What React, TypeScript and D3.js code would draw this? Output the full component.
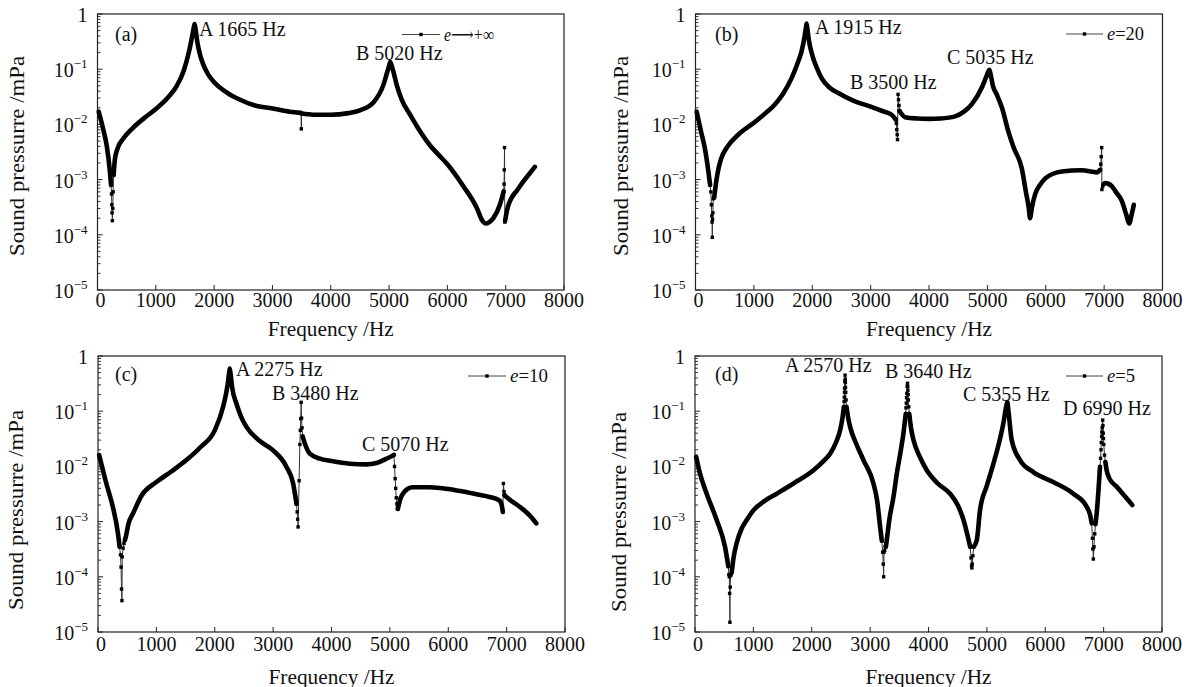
import React from "react";
import * as d3 from "d3";

type Pt = [number, number];

const xTickValues = [0, 1000, 2000, 3000, 4000, 5000, 6000, 7000, 8000];
const yDecades = [0, -1, -2, -3, -4, -5];

// ---------- (a) e -> +inf ----------
const curveA: Pt[][] = [
  [[20, 1.7e-2], [100, 8e-3], [160, 4e-3], [210, 1.5e-3], [232, 8e-4]],
  [[275, 1.2e-3], [300, 2.4e-3], [350, 3.8e-3], [446, 5.6e-3], [600, 8.5e-3], [800, 1.3e-2], [1000, 1.9e-2], [1200, 3.0e-2], [1360, 5.0e-2], [1480, 9.5e-2], [1560, 1.9e-1], [1620, 3.8e-1], [1650, 5.6e-1], [1665, 6.6e-1], [1680, 5.5e-1], [1710, 3.2e-1], [1760, 1.8e-1], [1817, 1.2e-1], [1900, 8e-2], [2000, 5.8e-2], [2200, 3.9e-2], [2446, 2.8e-2], [2700, 2.2e-2], [3000, 1.95e-2], [3300, 1.7e-2], [3490, 1.62e-2]],
  [[3500, 1.57e-2], [3700, 1.5e-2], [4000, 1.5e-2], [4300, 1.6e-2], [4500, 1.8e-2], [4731, 2.5e-2], [4903, 5.2e-2], [4970, 9e-2], [5005, 1.2e-1], [5020, 1.35e-1], [5040, 1.2e-1], [5074, 9e-2], [5131, 5.2e-2], [5217, 2.8e-2], [5360, 1.5e-2], [5531, 7.5e-3], [5700, 4.2e-3], [5850, 2.8e-3], [6000, 1.9e-3], [6274, 7.6e-4], [6503, 3.1e-4], [6600, 1.8e-4], [6657, 1.6e-4], [6720, 1.7e-4], [6789, 2.0e-4], [6900, 3.5e-4], [6965, 6.1e-4]],
  [[6990, 1.8e-4], [7030, 3e-4], [7074, 4.1e-4], [7200, 6.5e-4], [7303, 9.3e-4], [7400, 1.25e-3], [7500, 1.7e-3]],
];
const marksA: Pt[][] = [
  [[232, 8e-4], [240, 5.5e-4], [245, 3.5e-4], [250, 2.5e-4], [255, 1.8e-4], [262, 3e-4], [268, 6e-4], [275, 1.2e-3]],
  [[3490, 1.62e-2], [3495, 8.3e-3], [3500, 1.57e-2]],
  [[6965, 6.1e-4], [6972, 8.3e-4], [6976, 1.5e-3], [6980, 3.8e-3], [6985, 1.7e-4], [6990, 1.8e-4]],
];

// ---------- (b) e = 20 ----------
const curveB: Pt[][] = [
  [[20, 1.7e-2], [100, 7e-3], [160, 3.7e-3], [217, 1.5e-3], [250, 8e-4]],
  [[320, 4.7e-4], [360, 1e-3], [400, 1.7e-3], [446, 2.5e-3], [550, 4e-3], [731, 6.5e-3], [1000, 1.07e-2], [1200, 1.6e-2], [1360, 2.3e-2], [1500, 3.6e-2], [1646, 6.9e-2], [1750, 1.3e-1], [1817, 2.1e-1], [1870, 4e-1], [1890, 5.5e-1], [1903, 6.7e-1], [1918, 5.2e-1], [1950, 3e-1], [2000, 1.8e-1], [2080, 1.05e-1], [2160, 6.9e-2], [2300, 4.6e-2], [2446, 3.7e-2], [2700, 2.7e-2], [3000, 2.1e-2], [3200, 1.75e-2], [3360, 1.5e-2], [3429, 1.23e-2]],
  [[3495, 1.75e-2], [3530, 1.55e-2], [3589, 1.35e-2], [3800, 1.28e-2], [4000, 1.26e-2], [4200, 1.28e-2], [4446, 1.4e-2], [4600, 1.7e-2], [4731, 2.3e-2], [4903, 4.6e-2], [4985, 7.5e-2], [5020, 9.2e-2], [5034, 9.8e-2], [5050, 8.5e-2], [5100, 4.8e-2], [5160, 3.5e-2], [5250, 2e-2], [5360, 7.4e-3], [5450, 3.8e-3], [5589, 1.6e-3], [5660, 6e-4], [5710, 3e-4], [5731, 2.0e-4], [5760, 3e-4], [5817, 5.4e-4], [5900, 8e-4], [6000, 1.07e-3], [6274, 1.4e-3], [6617, 1.48e-3], [6874, 1.35e-3], [6931, 1.5e-3]],
  [[6990, 8.2e-4], [7017, 8.7e-4], [7060, 8.5e-4], [7131, 7.6e-4], [7200, 6e-4], [7303, 4.1e-4], [7380, 2.3e-4], [7429, 1.6e-4], [7470, 2.3e-4], [7509, 3.5e-4]],
];
const marksB: Pt[][] = [
  [[250, 8e-4], [263, 6e-4], [272, 3.5e-4], [280, 2.2e-4], [284, 1.7e-4], [288, 9e-5], [292, 1.9e-4], [298, 2.5e-4], [305, 4.5e-4], [320, 4.7e-4]],
  [[3429, 1.23e-2], [3440, 1.05e-2], [3448, 8e-3], [3455, 6.5e-3], [3460, 5.3e-3], [3470, 3.5e-2], [3478, 2.8e-2], [3486, 2.2e-2], [3495, 1.75e-2]],
  [[6931, 1.5e-3], [6942, 1.9e-3], [6950, 2.6e-3], [6958, 3.8e-3], [6962, 6.6e-4], [6975, 7.6e-4], [6990, 8.2e-4]],
];

// ---------- (c) e = 10 ----------
const curveC: Pt[][] = [
  [[20, 1.6e-2], [143, 4.9e-3], [257, 1.8e-3], [343, 6e-4], [370, 3.5e-4]],
  [[460, 4.6e-4], [480, 5.5e-4], [520, 9e-4], [600, 1.4e-3], [750, 3e-3], [1000, 5.2e-3], [1250, 8e-3], [1514, 1.3e-2], [1750, 2.2e-2], [2000, 4.5e-2], [2143, 1.2e-1], [2220, 3e-1], [2245, 4.8e-1], [2257, 5.9e-1], [2270, 4.8e-1], [2300, 2.6e-1], [2371, 1.38e-1], [2450, 8e-2], [2543, 5.2e-2], [2750, 3e-2], [3000, 1.95e-2], [3229, 9.8e-3], [3343, 4.9e-3], [3400, 2.1e-3]],
  [[3505, 3.5e-2], [3543, 2.6e-2], [3629, 1.7e-2], [3800, 1.38e-2], [4000, 1.25e-2], [4314, 1.12e-2], [4600, 1.09e-2], [4771, 1.15e-2], [4943, 1.38e-2], [5040, 1.55e-2], [5069, 1.62e-2]],
  [[5137, 1.7e-3], [5180, 2.6e-3], [5223, 3.2e-3], [5300, 3.9e-3], [5394, 4.2e-3], [5680, 4.2e-3], [6000, 3.9e-3], [6251, 3.5e-3], [6500, 3.1e-3], [6707, 2.8e-3], [6880, 2.4e-3], [6920, 1.9e-3], [6935, 1.5e-3]],
  [[6965, 3e-3], [6995, 2.8e-3], [7100, 2.3e-3], [7223, 1.86e-3], [7394, 1.3e-3], [7508, 9.3e-4]],
];
const marksC: Pt[][] = [
  [[370, 3.5e-4], [385, 2.5e-4], [395, 1.5e-4], [403, 6e-5], [410, 3.7e-5], [415, 2.3e-4], [430, 3.3e-4], [445, 4e-4], [460, 4.6e-4]],
  [[3400, 2.1e-3], [3412, 1.5e-3], [3420, 1.1e-3], [3428, 8e-4], [3445, 5.5e-3], [3458, 2.5e-2], [3466, 4.5e-2], [3473, 7.3e-2], [3480, 1.45e-1], [3487, 7.5e-2], [3495, 5e-2], [3505, 3.5e-2]],
  [[5069, 1.62e-2], [5080, 1e-2], [5090, 6e-3], [5100, 4e-3], [5110, 2.7e-3], [5120, 2.1e-3], [5130, 1.8e-3], [5137, 1.7e-3]],
  [[6935, 1.5e-3], [6945, 4.9e-3], [6955, 3.5e-3], [6965, 3e-3]],
];

// ---------- (d) e = 5 ----------
const curveD: Pt[][] = [
  [[20, 1.5e-2], [86, 7.4e-3], [200, 3.2e-3], [371, 1.07e-3], [514, 3.5e-4], [571, 1.55e-4]],
  [[629, 1.2e-4], [660, 2.2e-4], [714, 4.1e-4], [800, 7.5e-4], [886, 1.07e-3], [1000, 1.6e-3], [1200, 2.4e-3], [1400, 3.2e-3], [1700, 5e-3], [2029, 8.5e-3], [2200, 1.25e-2], [2314, 1.7e-2], [2420, 2.8e-2], [2486, 4.5e-2], [2530, 8e-2], [2550, 1.2e-1]],
  [[2595, 1.2e-1], [2620, 8e-2], [2657, 5.2e-2], [2760, 2.6e-2], [2886, 1.3e-2], [3057, 4.9e-3], [3120, 2.4e-3], [3171, 8.1e-4], [3200, 4.5e-4]],
  [[3270, 3.5e-4], [3286, 4.7e-4], [3330, 1.1e-3], [3400, 2.8e-3], [3457, 7.4e-3], [3520, 1.8e-2], [3571, 4e-2], [3610, 9e-2]],
  [[3670, 9e-2], [3700, 5e-2], [3743, 3e-2], [3850, 1.5e-2], [3971, 8.5e-3], [4150, 5e-3], [4371, 3.2e-3], [4500, 2e-3], [4600, 1.07e-3], [4680, 5e-4], [4714, 3.5e-4]],
  [[4775, 3.5e-4], [4829, 4.7e-4], [4882, 1.6e-3], [5000, 4.5e-3], [5110, 1.1e-2], [5220, 3e-2], [5282, 6e-2], [5330, 1.2e-1], [5350, 1.47e-1], [5370, 1e-1], [5425, 3e-2], [5568, 1.3e-2], [5796, 7.9e-3], [6138, 5.2e-3], [6481, 3.2e-3], [6710, 1.86e-3], [6770, 1.3e-3], [6796, 9.3e-4]],
  [[6860, 9e-4], [6881, 1.4e-3], [6910, 3.5e-3], [6938, 9.8e-3]],
  [[7030, 1.2e-2], [7052, 8.5e-3], [7100, 6e-3], [7223, 4.3e-3], [7350, 3e-3], [7491, 2e-3]],
];
const marksD: Pt[][] = [
  [[571, 1.55e-4], [580, 1.1e-4], [588, 1e-4], [593, 5e-5], [598, 1.5e-5], [603, 6.5e-5], [610, 1.05e-4], [618, 1.1e-4], [629, 1.2e-4]],
  [[2550, 1.2e-1], [2555, 1.5e-1], [2558, 1.8e-1], [2561, 2.2e-1], [2563, 2.6e-1], [2567, 3.5e-1], [2571, 4.5e-1], [2574, 3.8e-1], [2576, 3.3e-1], [2579, 2.7e-1], [2582, 2.2e-1], [2588, 1.6e-1], [2595, 1.2e-1]],
  [[3200, 4.5e-4], [3215, 2.8e-4], [3225, 1.7e-4], [3232, 1e-4], [3238, 2.8e-4], [3250, 3e-4], [3260, 3.5e-4], [3270, 3.5e-4]],
  [[3610, 9e-2], [3615, 1.15e-1], [3620, 1.4e-1], [3624, 1.75e-1], [3628, 2.1e-1], [3635, 2.8e-1], [3640, 3.2e-1], [3644, 2.8e-1], [3647, 2.4e-1], [3651, 2e-1], [3655, 1.6e-1], [3662, 1.2e-1], [3670, 9e-2]],
  [[4714, 3.5e-4], [4728, 2.2e-4], [4738, 1.6e-4], [4743, 1.45e-4], [4750, 1.7e-4], [4760, 2.4e-4], [4775, 3.5e-4]],
  [[6796, 9.3e-4], [6808, 5e-4], [6816, 3.2e-4], [6824, 2.1e-4], [6835, 3.5e-4], [6848, 6e-4], [6860, 9e-4]],
  [[6938, 9.8e-3], [6948, 1.4e-2], [6955, 2e-2], [6960, 2.7e-2], [6965, 3.5e-2], [6970, 4.2e-2], [6975, 5e-2], [6984, 6.9e-2], [6988, 5.5e-2], [6993, 4e-2], [6998, 3.2e-2], [7003, 2.5e-2], [7015, 1.6e-2], [7030, 1.2e-2]],
];

const tags = ["(a)", "(b)", "(c)", "(d)"];
const legendTails = ["\u27F6+\u221E", "=20", "=10", "=5"];
const notesA = ["A 1665 Hz", "B 5020 Hz"];
const notesB = ["A 1915 Hz", "B 3500 Hz", "C 5035 Hz"];
const notesC = ["A 2275 Hz", "B 3480 Hz", "C 5070 Hz"];
const notesD = ["A 2570 Hz", "B 3640 Hz", "C 5355 Hz", "D 6990 Hz"];
const xTitle = "Frequency /Hz";
const yTitle = "Sound pressurre /mPa";

const FONT = "Liberation Serif, DejaVu Serif, Noto Serif, serif";

interface Layout {
  l: number; r: number; t: number; b: number;
  tag: [number, number];
  notePos: [number, number][];
  legend: [number, number];
  legendLen: number;
  legendTextLen: number;
  ylabX: number; ylabCy: number;
  xtickBase: number; xtitleBase: number;
}

const layouts: Layout[] = [
  { l: 97.5, r: 564, t: 14, b: 290, tag: [115, 41], notePos: [[199, 36], [356, 60]], legend: [402, 34.5], legendLen: 38, legendTextLen: 50, ylabX: 24, ylabCy: 156, xtickBase: 307, xtitleBase: 336 },
  { l: 695.5, r: 1162.5, t: 14, b: 290, tag: [715, 41], notePos: [[815, 34], [850, 89], [947, 64]], legend: [1066, 34], legendLen: 37, legendTextLen: 37, ylabX: 628, ylabCy: 156, xtickBase: 307, xtitleBase: 336 },
  { l: 98, r: 565, t: 356, b: 632, tag: [115, 381], notePos: [[236, 376], [272, 400], [362, 451]], legend: [468, 376], legendLen: 38, legendTextLen: 38, ylabX: 23, ylabCy: 510, xtickBase: 651, xtitleBase: 684 },
  { l: 695, r: 1162, t: 356, b: 632, tag: [715, 381], notePos: [[785, 372], [885, 378], [963, 401], [1063, 415]], legend: [1066, 376], legendLen: 37, legendTextLen: 28, ylabX: 626, ylabCy: 512, xtickBase: 651, xtitleBase: 684 },
];

const curves = [curveA, curveB, curveC, curveD];
const marks = [marksA, marksB, marksC, marksD];
const notes = [notesA, notesB, notesC, notesD];

const txt = (size: number): React.CSSProperties => ({ fontFamily: FONT, fontSize: size });

function Panel({ idx }: { idx: number }) {
  const L = layouts[idx];
  const x = d3.scaleLinear().domain([0, 8000]).range([L.l, L.r]);
  const y = d3.scaleLog().domain([1e-5, 1]).range([L.b, L.t]);
  const thick = d3.line<Pt>().x((d) => x(d[0])).y((d) => y(d[1])).curve(d3.curveMonotoneX);
  const thin = d3.line<Pt>().x((d) => x(d[0])).y((d) => y(d[1]));
  const minor: number[] = [];
  for (let e = -5; e < 0; e++) for (let m = 2; m <= 9; m++) minor.push(m * Math.pow(10, e));
  const ms = 3.4;
  const [lgx, lgy] = L.legend;
  return (
    <g>
      <rect x={L.l} y={L.t} width={L.r - L.l} height={L.b - L.t} fill="none" stroke="#222" strokeWidth={1.2} />
      {xTickValues.map((v) => (
        <g key={"xt" + v}>
          <line x1={x(v)} x2={x(v)} y1={L.b} y2={L.b - 5} stroke="#222" strokeWidth={1} />
          <text x={x(v) + (v === 0 ? 3 : 0)} y={L.xtickBase} textAnchor="middle" style={txt(20)} fill="#111">{v}</text>
        </g>
      ))}
      {yDecades.map((e) => (
        <g key={"yt" + e}>
          <line x1={L.l} x2={L.l + 5} y1={y(Math.pow(10, e))} y2={y(Math.pow(10, e))} stroke="#222" strokeWidth={1} />
          <text x={L.l - 10} y={y(Math.pow(10, e)) + 8} textAnchor="end" style={txt(20)} fill="#111">
            {e === 0 ? "1" : (
              <>
                <tspan>10</tspan>
                <tspan dy={-9} style={txt(13)}>{"\u2212" + -e}</tspan>
              </>
            )}
          </text>
        </g>
      ))}
      {minor.map((v, i) => (
        <line key={"mn" + i} x1={L.l} x2={L.l + 3} y1={y(v)} y2={y(v)} stroke="#222" strokeWidth={0.9} />
      ))}
      <text x={(L.l + L.r) / 2} y={L.xtitleBase} textAnchor="middle" style={txt(20)} fill="#111" textLength={126} lengthAdjust="spacingAndGlyphs">{xTitle}</text>
      <text transform={`translate(${L.ylabX},${L.ylabCy}) rotate(-90)`} textAnchor="middle" style={txt(20)} fill="#111" textLength={200} lengthAdjust="spacingAndGlyphs">{yTitle}</text>
      {marks[idx].map((seg, i) => (
        <g key={"mk" + i}>
          <path d={thin(seg) || ""} fill="none" stroke="#333" strokeWidth={1} />
          {seg.map((p, j) => (
            <rect key={j} x={x(p[0]) - ms / 2} y={y(p[1]) - ms / 2} width={ms} height={ms} fill="#000" />
          ))}
        </g>
      ))}
      {curves[idx].map((seg, i) => (
        <path key={"cv" + i} d={thick(seg) || ""} fill="none" stroke="#000" strokeWidth={4.6} strokeLinejoin="round" strokeLinecap="round" />
      ))}
      <text x={L.tag[0]} y={L.tag[1]} style={txt(20)} fill="#111">{tags[idx]}</text>
      {notes[idx].map((n, i) => (
        <text key={"nt" + i} x={L.notePos[i][0]} y={L.notePos[i][1]} style={txt(20)} fill="#111">{n}</text>
      ))}
      <line x1={lgx} x2={lgx + L.legendLen} y1={lgy} y2={lgy} stroke="#444" strokeWidth={1} />
      <rect x={lgx + L.legendLen / 2 - 1.7} y={lgy - 1.7} width={3.4} height={3.4} fill="#000" />
      <text x={lgx + L.legendLen + 4} y={lgy + 6} style={txt(19)} fill="#111" textLength={L.legendTextLen} lengthAdjust="spacingAndGlyphs">
        <tspan fontStyle="italic">e</tspan>
        <tspan>{legendTails[idx]}</tspan>
      </text>
    </g>
  );
}

export default function App() {
  return (
    <div style={{ position: "absolute", left: 0, top: 0 }}>
      <svg width={1187} height={687} viewBox="0 0 1187 687" style={{ display: "block", background: "#fff" }}>
        <rect width={1187} height={687} fill="#fff" />
        {[0, 1, 2, 3].map((i) => (
          <Panel key={i} idx={i} />
        ))}
      </svg>
    </div>
  );
}
